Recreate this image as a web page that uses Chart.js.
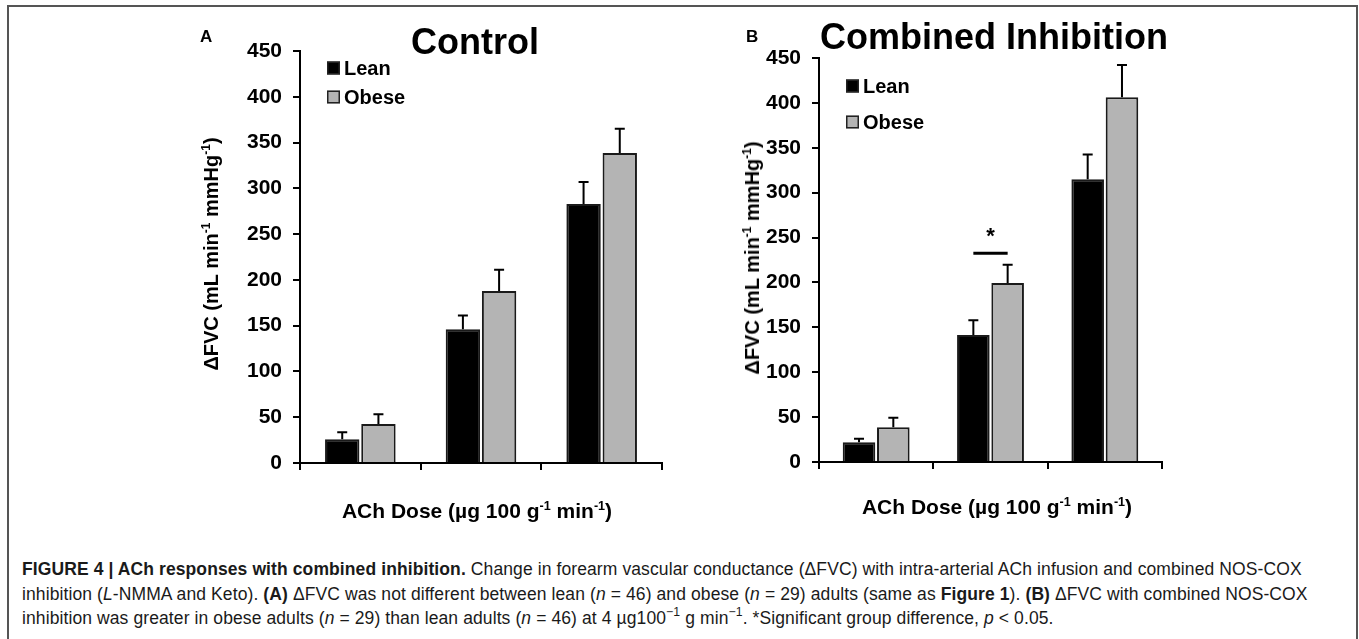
<!doctype html>
<html>

<head>
	<title>ACh responses with combined inhibition</title>
	<script src="https://cdn.jsdelivr.net/npm/chart.js@4.4.1/dist/chart.umd.min.js"></script>
	<style>
	body {
		margin: 0;
		width: 1359px;
		height: 639px;
		background: #fff;
		overflow: hidden;
		font-family: Arial, "Liberation Sans", sans-serif;
		color: #000;
	}
	#frame {
		position: absolute;
		left: 7px;
		top: 5px;
		width: 1347px;
		height: 700px;
		border: 2px solid #555;
		border-bottom: none;
	}
	canvas, .lbl {
		position: absolute;
	}
	.lbl {
		font-weight: bold;
		white-space: nowrap;
	}
	.ytitle {
		font-size: 20px;
		line-height: 20px;
		transform: translate(-50%, -50%) rotate(-90deg);
	}
	.xtitle {
		font-size: 21px;
		line-height: 21px;
		transform: translateX(-50%);
	}
	.title {
		font-size: 36px;
		line-height: 36px;
		transform: translateX(-50%);
	}
	.panel {
		font-size: 17px;
		line-height: 17px;
	}
	sup {
		font-size: 0.6em;
		vertical-align: 0.65em;
		line-height: 0;
	}
	#caption {
		position: absolute;
		left: 22px;
		top: 557px;
		font-family: "Liberation Sans", Arial, sans-serif;
		font-size: 17.5px;
		letter-spacing: 0.1px;
		line-height: 24.5px;
		white-space: nowrap;
		color: #1a1a1a;
	}
	#caption sup {
		font-size: 0.7em;
	}
	</style>
</head>

<body>
	<div id="frame"></div>

	<canvas id="chartA" width="510" height="535" style="left:170px;top:0px"></canvas>
	<canvas id="chartB" width="480" height="535" style="left:700px;top:0px"></canvas>

	<div class="lbl panel" style="left:200px;top:28px">A</div>
	<div class="lbl panel" style="left:746px;top:28px">B</div>
	<div class="lbl title" style="left:475px;top:24px">Control</div>
	<div class="lbl title" style="left:994px;top:19px">Combined Inhibition</div>
	<div class="lbl ytitle" style="left:211px;top:254px">ΔFVC (mL min<sup>-1</sup> mmHg<sup>-1</sup>)</div>
	<div class="lbl ytitle" style="left:752px;top:258px">ΔFVC (mL min<sup>-1</sup> mmHg<sup>-1</sup>)</div>
	<div class="lbl xtitle" style="left:477px;top:500px">ACh Dose (µg 100 g<sup>-1</sup> min<sup>-1</sup>)</div>
	<div class="lbl xtitle" style="left:997px;top:496px">ACh Dose (µg 100 g<sup>-1</sup> min<sup>-1</sup>)</div>

	<div id="caption">
		<b>FIGURE 4 | ACh responses with combined inhibition.</b> Change in forearm vascular conductance (ΔFVC) with intra-arterial ACh infusion and combined NOS-COX<br>
		inhibition (<i>L</i>-NMMA and Keto). <b>(A)</b> ΔFVC was not different between lean (<i>n</i> = 46) and obese (<i>n</i> = 29) adults (same as <b>Figure 1</b>). <b>(B)</b> ΔFVC with combined NOS-COX<br>
		inhibition was greater in obese adults (<i>n</i> = 29) than lean adults (<i>n</i> = 46) at 4 µg100<sup>−1</sup> g min<sup>−1</sup>. *Significant group difference, <i>p</i> &lt; 0.05.
	</div>

	<script>
		// ACh doses (not labelled on the axis)
		const doses = ['1', '4', '16'];

		// A: control
		const leanControl = [26, 146, 283];
		const leanControlErr = [7.5, 15, 24];
		const obeseControl = [42.6, 188, 338.6];
		const obeseControlErr = [10.6, 23, 26.5];
		const sigControl = [null, null, null];

		// B: combined NOS-COX inhibition
		const leanCombined = [22, 141.5, 315];
		const leanCombinedErr = [3.8, 16.3, 27.4];
		const obeseCombined = [38.6, 199.4, 406.2];
		const obeseCombinedErr = [10.7, 20.3, 36];
		const sigCombined = [null, 232.5, null];

		const yMin = 0;
		const yMax = 450;
		const yStep = 50;

		const FONT = 'Arial, "Liberation Sans", sans-serif';

		const errorBars = {
			id: 'errorBars',
			afterDatasetsDraw(chart) {
				const ctx = chart.ctx;
				const y = chart.scales.y;
				ctx.save();
				ctx.strokeStyle = '#000';
				ctx.lineWidth = 2;
				chart.data.datasets.forEach((ds, i) => {
					chart.getDatasetMeta(i).data.forEach((bar, j) => {
						const top = y.getPixelForValue(ds.data[j] + ds.errors[j]);
						ctx.beginPath();
						ctx.moveTo(bar.x, bar.y);
						ctx.lineTo(bar.x, top);
						ctx.moveTo(bar.x - 5, top);
						ctx.lineTo(bar.x + 5, top);
						ctx.stroke();
					});
				});
				ctx.restore();
			}
		};

		const sigMarks = {
			id: 'sigMarks',
			afterDatasetsDraw(chart, args, opts) {
				const ctx = chart.ctx;
				const y = chart.scales.y;
				const m0 = chart.getDatasetMeta(0).data;
				const m1 = chart.getDatasetMeta(1).data;
				ctx.save();
				opts.levels.forEach((v, j) => {
					if (v === null) return;
					const py = y.getPixelForValue(v);
					ctx.lineWidth = 3;
					ctx.strokeStyle = '#000';
					ctx.beginPath();
					ctx.moveTo(m0[j].x, py);
					ctx.lineTo(m1[j].x, py);
					ctx.stroke();
					ctx.fillStyle = '#000';
					ctx.font = 'bold 22px ' + FONT;
					ctx.textAlign = 'center';
					ctx.fillText('*', (m0[j].x + m1[j].x) / 2, py - 10);
				});
				ctx.restore();
			}
		};

		const boxLegend = {
			id: 'boxLegend',
			afterDraw(chart, args, opts) {
				const ctx = chart.ctx;
				const a = chart.chartArea;
				ctx.save();
				ctx.font = 'bold 20px ' + FONT;
				ctx.textBaseline = 'middle';
				ctx.lineWidth = 1.5;
				ctx.strokeStyle = '#222';
				chart.data.datasets.forEach((ds, i) => {
					const x = a.left + opts.left;
					const cy = a.top + opts.top + i * opts.gap;
					ctx.fillStyle = ds.backgroundColor;
					ctx.fillRect(x, cy - 6.5, 13, 13);
					ctx.strokeRect(x + 0.75, cy - 5.75, 11.5, 11.5);
					ctx.fillStyle = '#000';
					ctx.fillText(ds.label, x + 17, cy + 1);
				});
				ctx.restore();
			}
		};

		function makePanel(id, lean, leanErr, obese, obeseErr, sig, box) {
			return new Chart(document.getElementById(id), {
				type: 'bar',
				data: {
					labels: doses,
					datasets: [{
						label: 'Lean',
						data: lean,
						errors: leanErr,
						backgroundColor: '#000',
						borderColor: '#1a1a1a',
						borderWidth: 2
					}, {
						label: 'Obese',
						data: obese,
						errors: obeseErr,
						backgroundColor: '#b4b4b4',
						borderColor: '#1a1a1a',
						borderWidth: 2
					}]
				},
				options: {
					responsive: false,
					animation: false,
					categoryPercentage: 0.6,
					barPercentage: 0.95,
					layout: {
						padding: {top: box.top, right: 18, bottom: 0, left: 0}
					},
					plugins: {
						legend: {display: false},
						tooltip: {enabled: false},
						boxLegend: box.legend,
						sigMarks: {levels: sig}
					},
					scales: {
						x: {
							ticks: {display: false},
							grid: {drawOnChartArea: false, tickLength: 7, color: '#000', lineWidth: 2},
							border: {color: '#000', width: 2},
							afterFit(s) { s.height = box.xHeight; }
						},
						y: {
							min: yMin,
							max: yMax,
							ticks: {
								stepSize: yStep,
								padding: 11,
								color: '#000',
								font: {family: FONT, size: 21, weight: 'bold'}
							},
							grid: {drawOnChartArea: false, tickLength: 7, color: '#000', lineWidth: 2},
							border: {color: '#000', width: 2},
							afterFit(s) { s.width = box.yWidth; }
						}
					}
				},
				plugins: [errorBars, sigMarks, boxLegend]
			});
		}

		makePanel('chartA', leanControl, leanControlErr, obeseControl, obeseControlErr, sigControl,
			{top: 51, xHeight: 72, yWidth: 130, legend: {left: 27, top: 17, gap: 29}});
		makePanel('chartB', leanCombined, leanCombinedErr, obeseCombined, obeseCombinedErr, sigCombined,
			{top: 58, xHeight: 73, yWidth: 119, legend: {left: 27, top: 28, gap: 36}});
	</script>
</body>

</html>
